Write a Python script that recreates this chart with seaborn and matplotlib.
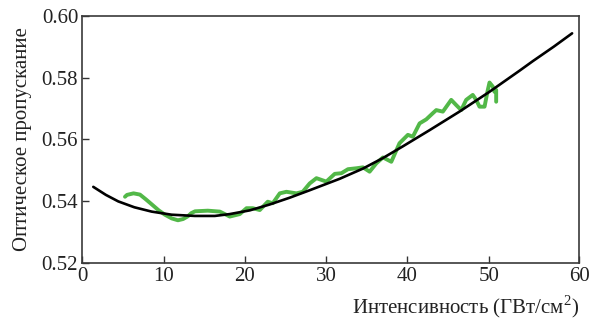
import matplotlib
matplotlib.use("Agg")
import matplotlib.pyplot as plt
import seaborn as sns
import pandas as pd

# measured (green) data
meas_x = [5.25, 5.5, 6.3, 7.09, 7.8, 8.56, 9.4, 10.16, 11.0, 11.76, 12.4, 12.99, 13.4, 13.87,
          15.44, 16.92, 18.14, 19.37,
          20.20, 20.97, 21.83, 22.81, 23.43, 24.29, 25.11, 26.34, 27.11, 27.97, 28.80,
          30.02, 31.05, 31.87, 32.68, 33.71, 34.52, 35.34, 36.17, 36.98, 38.01, 39.02,
          40.05, 40.66, 41.49, 42.31, 43.12, 43.54, 44.35, 45.38, 46.00, 46.61, 47.22,
          48.03, 48.45, 48.86, 49.48, 49.88, 50.09, 50.49, 50.70, 50.91, 50.91]
meas_y = [0.5415, 0.5421, 0.5426, 0.5422, 0.5407, 0.5390, 0.5371, 0.5357, 0.5345, 0.5339,
          0.5343, 0.5352, 0.5362, 0.5368,
          0.5370, 0.5367, 0.5351, 0.5359, 0.5378, 0.5378, 0.5372, 0.5399, 0.5394, 0.5426,
          0.5431, 0.5426, 0.5431, 0.5458, 0.5475, 0.5464, 0.5489, 0.5491, 0.5504, 0.5507,
          0.5510, 0.5496, 0.5523, 0.5542, 0.5528, 0.5588, 0.5615, 0.5609, 0.5652, 0.5665,
          0.5685, 0.5695, 0.5690, 0.5728, 0.5711, 0.5695, 0.5728, 0.5744, 0.5728, 0.5706,
          0.5706, 0.5760, 0.5784, 0.5771, 0.5754, 0.5760, 0.5722]

# fitted (black) curve
fit_x = [1.35, 2.9, 4.42, 6.4, 8.53, 10.98, 13.84, 16.30, 18.14, 20.60, 23.05, 25.52,
         27.97, 31.66, 34.52, 36.98, 39.44, 42.71, 46.39, 50.08, 53.77, 55.41, 58.0, 60.25]
fit_y = [0.5447, 0.5421, 0.5400, 0.5381, 0.5367, 0.5357, 0.5353, 0.5353, 0.5359, 0.5371,
         0.5390, 0.5412, 0.5436, 0.5473, 0.5506, 0.5540, 0.5578, 0.5630, 0.5690, 0.5754,
         0.5822, 0.5853, 0.5900, 0.5943]

xtick_pos = [0, 10, 20, 30, 40, 50, 61.1]
xtick_labels = ["0", "10", "20", "30", "40", "50", "60"]
ytick_pos = [0.52, 0.54, 0.56, 0.58, 0.60]
ytick_labels = ["0.52", "0.54", "0.56", "0.58", "0.60"]

sns.set_theme(style="ticks")
plt.rcParams["font.family"] = ["Liberation Serif", "DejaVu Serif"]
plt.rcParams["mathtext.fontset"] = "custom"
plt.rcParams["mathtext.rm"] = "Liberation Serif"

fig = plt.figure(figsize=(5.96, 3.2), dpi=100)
ax = fig.add_axes([0.1381, 0.1772, 0.9715 - 0.1381, 0.951 - 0.1772])

meas = pd.DataFrame({"x": meas_x, "y": meas_y})
fit = pd.DataFrame({"x": fit_x, "y": fit_y})

sns.lineplot(data=meas, x="x", y="y", ax=ax, color="#52b848", linewidth=2.8,
             sort=False, estimator=None, solid_joinstyle="round", solid_capstyle="round")
sns.lineplot(data=fit, x="x", y="y", ax=ax, color="black", linewidth=1.9,
             sort=False, estimator=None, solid_joinstyle="round")

ax.set_xlim(0, 61.1)
ax.set_ylim(0.52, 0.60)
ax.set_xticks(xtick_pos)
ax.set_xticklabels(xtick_labels)
ax.set_yticks(ytick_pos)
ax.set_yticklabels(ytick_labels)

txt = "#222222"
ax.tick_params(direction="in", length=5, width=1.0, labelsize=15, colors="#333333",
               labelcolor=txt, top=False, right=False, pad=3)
for s in ax.spines.values():
    s.set_color("#3a3a3a")
    s.set_linewidth(1.2)
    s.set_visible(True)

ax.set_xlabel("Интенсивность (ГВт/см$^{\\mathrm{2}}$)", fontsize=15, color=txt,
              loc="right", labelpad=5)
ax.set_ylabel("Оптическое пропускание", fontsize=15, color=txt, labelpad=7)

fig.savefig("out.png", dpi=100)
